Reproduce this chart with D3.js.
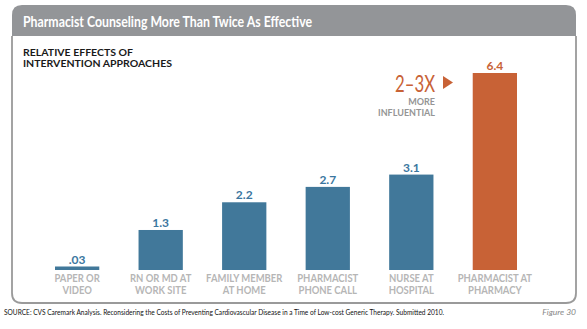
<!DOCTYPE html>
<html>
<head>
<meta charset="utf-8">
<script src="https://cdn.jsdelivr.net/npm/d3@7"></script>
<style>
  html, body { margin: 0; padding: 0; background: #fff; }
  svg { display: block; }
</style>
</head>
<body>
<svg id="chart"></svg>
<script>
const categories = ['PAPER OR|VIDEO', 'RN OR MD AT|WORK SITE', 'FAMILY MEMBER|AT HOME',
  'PHARMACIST|PHONE CALL', 'NURSE AT|HOSPITAL', 'PHARMACIST AT|PHARMACY']
const values = [0.03, 1.3, 2.2, 2.7, 3.1, 6.4]
const valueLabels = ['.03', '1.3', '2.2', '2.7', '3.1', '6.4']
const highlight = [false, false, false, false, false, true]

const width = 587, height = 329
const blue = '#41789a', orange = '#c86236'
const font = 'Lato, "Open Sans", sans-serif'

const svg = d3.select('#chart').attr('width', width).attr('height', height)

// frame
const fx0 = 12, fx1 = 576, fy0 = 5, fy1 = 303, hy = 36, r = 10
svg.append('path')
  .attr('d', `M${fx0},${hy} V${fy0 + r} Q${fx0},${fy0} ${fx0 + r},${fy0} H${fx1 - r} Q${fx1},${fy0} ${fx1},${fy0 + r} V${hy} Z`)
  .attr('fill', '#939598')
svg.append('path')
  .attr('d', `M${fx0},${hy} V${fy1 - r} Q${fx0},${fy1} ${fx0 + r},${fy1} H${fx1 - r} Q${fx1},${fy1} ${fx1},${fy1 - r} V${hy}`)
  .attr('fill', 'none').attr('stroke', '#9a9a9a').attr('stroke-width', 1.8)

svg.append('text')
  .attr('x', 23).attr('y', 27)
  .attr('textLength', 289).attr('lengthAdjust', 'spacingAndGlyphs')
  .style('font-family', font).style('font-weight', 700).style('font-size', '16px')
  .attr('fill', '#fff')
  .text('Pharmacist Counseling More Than Twice As Effective')

const sub = svg.append('g')
  .style('font-family', font).style('font-weight', 700).style('font-size', '10px').attr('fill', '#1a1a1a')
sub.append('text').attr('x', 23).attr('y', 56).attr('textLength', 110).attr('lengthAdjust', 'spacingAndGlyphs').text('RELATIVE EFFECTS OF')
sub.append('text').attr('x', 23).attr('y', 67).attr('textLength', 149).attr('lengthAdjust', 'spacingAndGlyphs').text('INTERVENTION APPROACHES')

// scales
const x = d3.scaleBand().domain(categories).range([55, 517]).paddingInner(0.47)
const y = d3.scaleLinear().domain([0, 6.4]).range([270, 73])

const bars = svg.append('g').selectAll('g').data(categories).join('g')

bars.append('rect')
  .attr('x', d => x(d))
  .attr('width', x.bandwidth())
  .attr('y', (d, i) => Math.min(y(values[i]), y(0) - 3.5))
  .attr('height', (d, i) => Math.max(y(0) - y(values[i]), 3.5))
  .attr('fill', (d, i) => highlight[i] ? orange : blue)

bars.append('text')
  .attr('x', d => x(d) + x.bandwidth() / 2)
  .attr('y', (d, i) => Math.min(y(values[i]), y(0) - 3.5) - 3)
  .attr('text-anchor', 'middle')
  .style('font-family', font).style('font-weight', 700).style('font-size', '12px')
  .attr('fill', (d, i) => highlight[i] ? orange : '#3b77a0')
  .text((d, i) => valueLabels[i])

// category labels, squeezed a bit like the condensed original font
bars.each(function(d) {
  const g = d3.select(this)
  d.split('|').forEach((l, j) => {
    const t = g.append('text')
      .attr('x', x(d) + x.bandwidth() / 2).attr('y', 282 + j * 12)
      .attr('text-anchor', 'middle')
      .style('font-family', font).style('font-weight', 700).style('font-size', '11px')
      .attr('fill', '#b6b6b6')
      .text(l)
    const w = t.node().getComputedTextLength()
    t.attr('textLength', w * 0.86).attr('lengthAdjust', 'spacingAndGlyphs')
  })
})

// callout
svg.append('text')
  .attr('x', 435).attr('y', 92).attr('text-anchor', 'end')
  .attr('textLength', 40).attr('lengthAdjust', 'spacingAndGlyphs')
  .style('font-family', font).style('font-size', '24px').style('font-weight', 400)
  .attr('fill', orange).text('2–3X')
svg.append('path').attr('d', 'M443,76 L453,82.5 L443,89 Z').attr('fill', orange)
const mi = svg.append('g')
  .style('font-family', font).style('font-weight', 700).style('font-size', '9px').attr('fill', '#959595')
  .attr('text-anchor', 'end')
mi.append('text').attr('x', 435).attr('y', 105).text('MORE')
mi.append('text').attr('x', 435).attr('y', 116).text('INFLUENTIAL')

// footer
svg.append('text').attr('x', 4).attr('y', 315)
  .attr('textLength', 440).attr('lengthAdjust', 'spacingAndGlyphs')
  .style('font-family', font).style('font-size', '7.5px').attr('fill', '#111')
  .text('SOURCE: CVS Caremark Analysis. Reconsidering the Costs of Preventing Cardiovascular Disease in a Time of Low-cost Generic Therapy. Submitted 2010.')
svg.append('text').attr('x', 576).attr('y', 315).attr('text-anchor', 'end')
  .style('font-family', font).style('font-size', '8.5px').style('font-style', 'italic').attr('fill', '#888')
  .text('Figure 30')
</script>
</body>
</html>
